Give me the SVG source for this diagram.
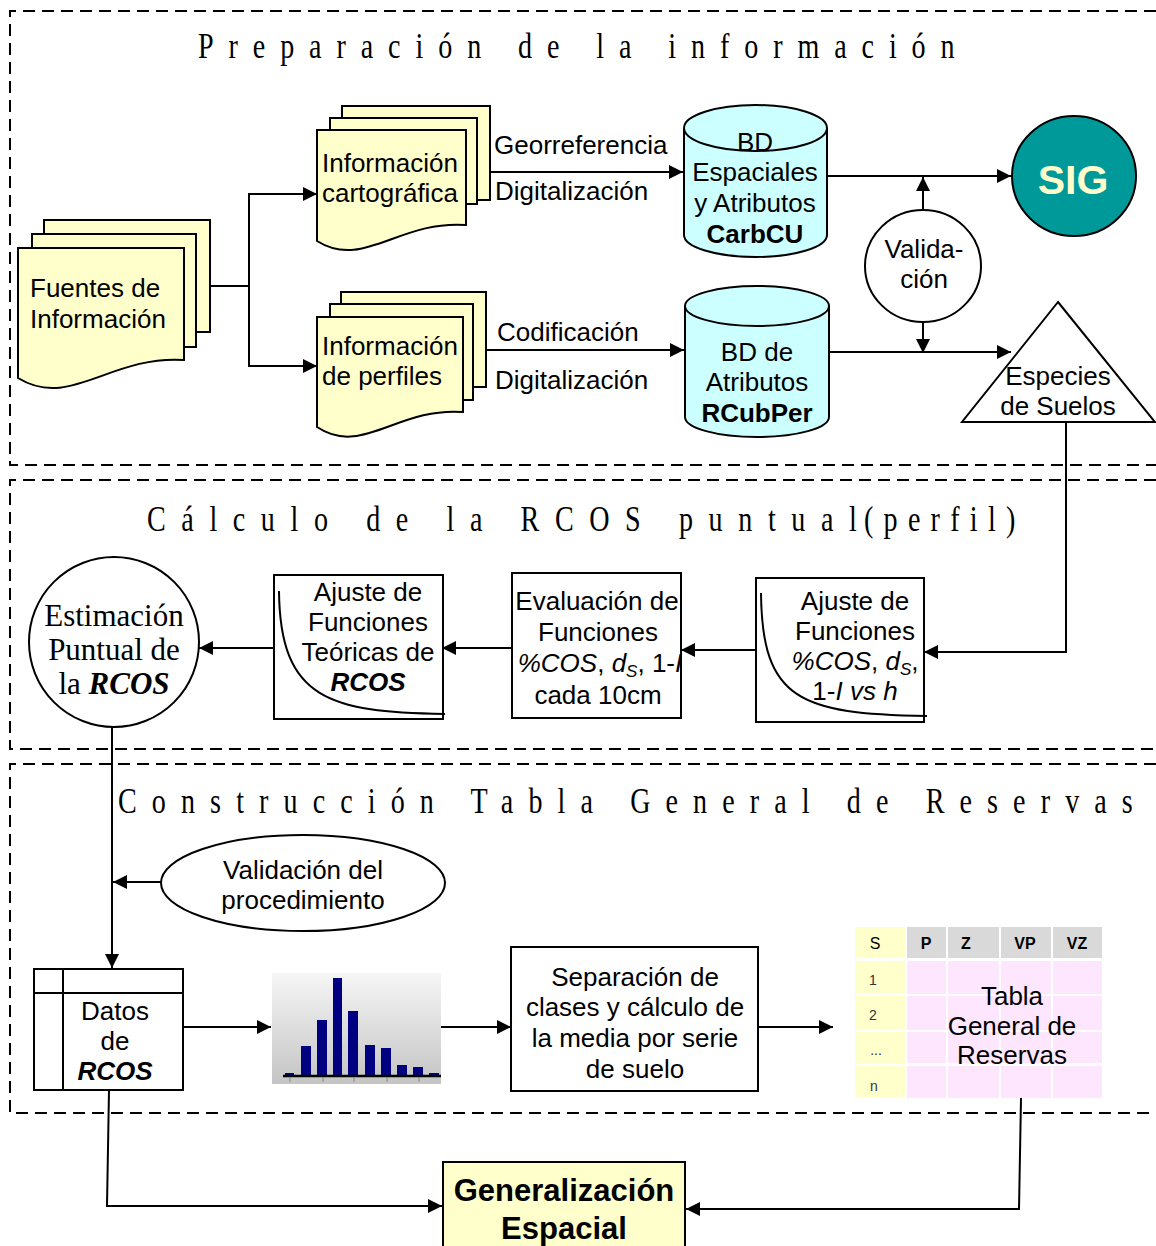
<svg xmlns="http://www.w3.org/2000/svg" width="1156" height="1246" viewBox="0 0 1156 1246">
<style>
.t{font-family:"Liberation Sans",Arial,sans-serif;font-size:26px;fill:#000}
.m{text-anchor:middle}
.b{font-weight:bold}
.i{font-style:italic}
.bi{font-weight:bold;font-style:italic}
.g{font-size:31px}
.ser{font-family:"Liberation Serif","Times New Roman",serif;font-size:31px;fill:#000;text-anchor:middle}
.ttl{font-family:"Liberation Serif","Times New Roman",serif;font-size:36px;fill:#000}
.frame{fill:none;stroke:#000;stroke-width:2;stroke-dasharray:12 7}
.doc{fill:#FFFFCC;stroke:#000;stroke-width:2}
.cyl{fill:#CCFFFF;stroke:#000;stroke-width:2}
.wh{fill:#fff;stroke:#000;stroke-width:2}
.ln{fill:none;stroke:#000;stroke-width:2}
.ar{fill:none;stroke:#000;stroke-width:2;marker-end:url(#ah)}
.hd{font-family:"Liberation Sans",Arial,sans-serif;font-size:16px;font-weight:bold;text-anchor:middle;fill:#000}
.rl{font-family:"Liberation Sans",Arial,sans-serif;font-size:14px;text-anchor:middle;fill:#333}
</style>
<defs>
<marker id="ah" viewBox="0 0 10 10" refX="10" refY="5" markerWidth="15" markerHeight="14" markerUnits="userSpaceOnUse" orient="auto">
<path d="M0,0 L10,5 L0,10 Z" fill="#000"/>
</marker>
<linearGradient id="hg" x1="0" y1="0" x2="0" y2="1">
<stop offset="0" stop-color="#F6F6F6"/>
<stop offset="1" stop-color="#C4C4C4"/>
</linearGradient>
</defs>
<rect width="1156" height="1246" fill="#fff"/>

<g id="frames">
<path class="frame" d="M1156,11 H10 V465 H1156"/>
<path class="frame" d="M1156,480 H10 V749 H1156"/>
<path class="frame" d="M1156,764 H10 V1113 H1156"/>
</g>

<g id="titles">
<text class="ttl" transform="translate(198,58) scale(0.78,1)" textLength="970" lengthAdjust="spacing">Preparación de la información</text>
<text class="ttl" transform="translate(147,531) scale(0.78,1)" textLength="910" lengthAdjust="spacing">Cálculo de la RCOS puntual</text>
<text class="ttl" transform="translate(864,531) scale(0.78,1)" textLength="194" lengthAdjust="spacing">(perfil)</text>
<text class="ttl" transform="translate(118,813) scale(0.78,1)" textLength="1301" lengthAdjust="spacing">Construcción Tabla General de Reservas</text>
</g>

<g id="connectors">
<path class="ar" d="M210,286 H249 V194 H317"/>
<path class="ar" d="M249,286 V366 H317"/>
<path class="ar" d="M490,172 H683"/>
<path class="ar" d="M486,350 H684"/>
<path class="ar" d="M827,176 H1011"/>
<path class="ar" d="M923,210 V177"/>
<path class="ar" d="M923,322 V353"/>
<path class="ar" d="M829,352 H1011"/>
<path class="ar" d="M1066,422 V652 H924"/>
<path class="ar" d="M756,650 H681"/>
<path class="ar" d="M511,648 H442"/>
<path class="ar" d="M274,648 H199"/>
<path class="ar" d="M112,727 V968"/>
<path class="ar" d="M161,882 H113"/>
<path class="ar" d="M183,1027 H271"/>
<path class="ar" d="M441,1027 H511"/>
<path class="ar" d="M758,1027 H833"/>
<path class="ar" d="M1021,1098 L1019,1209 H686"/>
<path class="ar" d="M109,1090 L107,1206 H442"/>
</g>

<g id="fuentes">
<rect class="doc" x="44" y="220" width="166" height="112"/>
<rect class="doc" x="32" y="234" width="164" height="113"/>
<path class="doc" d="M18,248 H184 V360 C110,355 70,410 18,378 Z"/>
<text class="t" x="30" y="297">Fuentes de</text>
<text class="t" x="30" y="328">Información</text>
</g>

<g id="cartografica">
<rect class="doc" x="342" y="106" width="148" height="94"/>
<rect class="doc" x="330" y="118" width="147" height="86"/>
<path class="doc" d="M317,130 H466 V225 C399,220 363,270 317,241 Z"/>
<text class="t" x="322" y="172">Información</text>
<text class="t" x="322" y="202">cartográfica</text>
</g>

<g id="perfiles">
<rect class="doc" x="341" y="292" width="145" height="95"/>
<rect class="doc" x="330" y="304" width="143" height="96"/>
<path class="doc" d="M317,317 H463 V412 C397,407 362,457 317,427 Z"/>
<text class="t" x="322" y="355">Información</text>
<text class="t" x="322" y="385">de perfiles</text>
</g>

<g id="labels">
<text class="t" x="494" y="154">Georreferencia</text>
<text class="t" x="495" y="200">Digitalización</text>
<text class="t" x="497" y="341">Codificación</text>
<text class="t" x="495" y="389">Digitalización</text>
</g>

<g id="bd-carbcu">
<path class="cyl" d="M684,128 A71.5,23 0 0 1 827,128 V235 A71.5,22 0 0 1 684,235 Z"/>
<path class="ln" d="M684,128 A71.5,23 0 0 0 827,128"/>
<text class="t m" x="755" y="151">BD</text>
<text class="t m" x="755" y="181">Espaciales</text>
<text class="t m" x="755" y="212">y Atributos</text>
<text class="t m b" x="755" y="243">CarbCU</text>
</g>

<g id="bd-rcubper">
<path class="cyl" d="M685,306 A72,20 0 0 1 829,306 V417 A72,20 0 0 1 685,417 Z"/>
<path class="ln" d="M685,306 A72,20 0 0 0 829,306"/>
<text class="t m" x="757" y="361">BD de</text>
<text class="t m" x="757" y="391">Atributos</text>
<text class="t m b" x="757" y="422">RCubPer</text>
</g>

<g id="sig">
<ellipse cx="1074" cy="176" rx="62" ry="60" fill="#009999" stroke="#000" stroke-width="2"/>
<text x="1073" y="194" text-anchor="middle" font-family="Liberation Sans,Arial,sans-serif" font-size="41" font-weight="bold" fill="#FFFFCC">SIG</text>
</g>

<g id="validacion">
<ellipse class="wh" cx="923" cy="266" rx="58" ry="56"/>
<text class="t m" x="924" y="258">Valida-</text>
<text class="t m" x="924" y="288">ción</text>
</g>

<g id="especies">
<path class="wh" d="M1058,302 L1155,422 L962,422 Z"/>
<text class="t m" x="1058" y="385">Especies</text>
<text class="t m" x="1058" y="415">de Suelos</text>
</g>

<g id="ajuste2">
<rect class="wh" x="756" y="578" width="168" height="144"/>
<path class="ln" d="M761,593 C762,700 800,714 927,716"/>
<text class="t m" x="855" y="610">Ajuste de</text>
<text class="t m" x="855" y="640">Funciones</text>
<text class="t m" x="855" y="670"><tspan class="i">%COS</tspan>, <tspan class="i">d</tspan><tspan class="i" font-size="17" dy="5">S</tspan><tspan dy="-5">,</tspan></text>
<text class="t m" x="855" y="700">1-<tspan class="i">I vs h</tspan></text>
</g>

<g id="evaluacion">
<rect class="wh" x="512" y="573" width="169" height="145"/>
<text class="t m" x="597" y="610">Evaluación de</text>
<text class="t m" x="598" y="641">Funciones</text>
<text class="t m" x="600" y="672"><tspan class="i">%COS</tspan>, <tspan class="i">d</tspan><tspan class="i" font-size="17" dy="5">S</tspan><tspan dy="-5">, 1-</tspan><tspan class="i">I</tspan></text>
<text class="t m" x="598" y="704">cada 10cm</text>
</g>

<g id="ajuste1">
<rect class="wh" x="274" y="575" width="169" height="144"/>
<path class="ln" d="M279,591 C280,700 330,712 445,714"/>
<text class="t m" x="368" y="601">Ajuste de</text>
<text class="t m" x="368" y="631">Funciones</text>
<text class="t m" x="368" y="661">Teóricas de</text>
<text class="t m bi" x="368" y="691">RCOS</text>
</g>

<g id="estimacion">
<ellipse class="wh" cx="114" cy="642" rx="85" ry="85"/>
<text class="ser" x="114" y="626">Estimación</text>
<text class="ser" x="114" y="660">Puntual de</text>
<text class="ser" x="114" y="694">la <tspan font-weight="bold" font-style="italic">RCOS</tspan></text>
</g>

<g id="validacion-proc">
<ellipse class="wh" cx="303" cy="883" rx="142" ry="48"/>
<text class="t m" x="303" y="879">Validación del</text>
<text class="t m" x="303" y="909">procedimiento</text>
</g>

<g id="datos">
<rect class="wh" x="34" y="969" width="149" height="121"/>
<path class="ln" d="M63,969 V1090 M34,993 H183"/>
<text class="t m" x="115" y="1020">Datos</text>
<text class="t m" x="115" y="1050">de</text>
<text class="t m bi" x="115" y="1080">RCOS</text>
</g>

<g id="histograma">
<rect x="272" y="973" width="169" height="111" fill="url(#hg)"/>
<g fill="#000080">
<rect x="285" y="1073" width="9" height="3"/>
<rect x="301" y="1046" width="10" height="30"/>
<rect x="317" y="1020" width="10" height="56"/>
<rect x="333" y="978" width="9" height="98"/>
<rect x="348" y="1011" width="10" height="65"/>
<rect x="365" y="1045" width="10" height="31"/>
<rect x="381" y="1048" width="10" height="28"/>
<rect x="397" y="1065" width="10" height="11"/>
<rect x="413" y="1067" width="10" height="9"/>
<rect x="429" y="1073" width="10" height="3"/>
</g>
<path d="M283,1076 H441" stroke="#000" stroke-width="2.5"/>
<path d="M290,1077 V1082 M323,1077 V1082 M354,1077 V1082 M387,1077 V1082 M419,1077 V1082" stroke="#888" stroke-width="1"/>
</g>

<g id="separacion">
<rect class="wh" x="511" y="947" width="247" height="144"/>
<text class="t m" x="635" y="986">Separación de</text>
<text class="t m" x="635" y="1016">clases y cálculo de</text>
<text class="t m" x="635" y="1047">la media por serie</text>
<text class="t m" x="635" y="1078">de suelo</text>
</g>

<g id="tabla">
<g fill="#FFFFCC">
<rect x="855" y="927" width="50" height="31"/>
<rect x="855" y="961" width="50" height="33"/>
<rect x="855" y="996" width="50" height="34"/>
<rect x="855" y="1032" width="50" height="31"/>
<rect x="855" y="1066" width="50" height="32"/>
</g>
<g fill="#D9D9D9">
<rect x="907" y="927" width="39" height="31"/>
<rect x="948" y="927" width="51" height="31"/>
<rect x="1001" y="927" width="50" height="31"/>
<rect x="1053" y="927" width="49" height="31"/>
</g>
<g fill="#FFE6FF">
<rect x="907" y="961" width="39" height="33"/><rect x="948" y="961" width="51" height="33"/><rect x="1001" y="961" width="50" height="33"/><rect x="1053" y="961" width="49" height="33"/>
<rect x="907" y="996" width="39" height="34"/><rect x="948" y="996" width="51" height="34"/><rect x="1001" y="996" width="50" height="34"/><rect x="1053" y="996" width="49" height="34"/>
<rect x="907" y="1032" width="39" height="31"/><rect x="948" y="1032" width="51" height="31"/><rect x="1001" y="1032" width="50" height="31"/><rect x="1053" y="1032" width="49" height="31"/>
<rect x="907" y="1066" width="39" height="32"/><rect x="948" y="1066" width="51" height="32"/><rect x="1001" y="1066" width="50" height="32"/><rect x="1053" y="1066" width="49" height="32"/>
</g>
<text class="hd" x="875" y="949" style="font-weight:normal">S</text>
<text class="hd" x="926" y="949">P</text>
<text class="hd" x="966" y="949">Z</text>
<text class="hd" x="1025" y="949">VP</text>
<text class="hd" x="1077" y="949">VZ</text>
<text class="rl" x="873" y="985">1</text>
<text class="rl" x="873" y="1020">2</text>
<text class="rl" x="876" y="1055">...</text>
<text class="rl" x="874" y="1091">n</text>
<text class="t m" x="1012" y="1005">Tabla</text>
<text class="t m" x="1012" y="1035">General de</text>
<text class="t m" x="1012" y="1064">Reservas</text>
</g>

<g id="generalizacion">
<rect x="443" y="1162" width="242" height="92" fill="#FFFFCC" stroke="#000" stroke-width="2"/>
<text class="t m b g" x="564" y="1201">Generalización</text>
<text class="t m b g" x="564" y="1239">Espacial</text>
</g>
</svg>
